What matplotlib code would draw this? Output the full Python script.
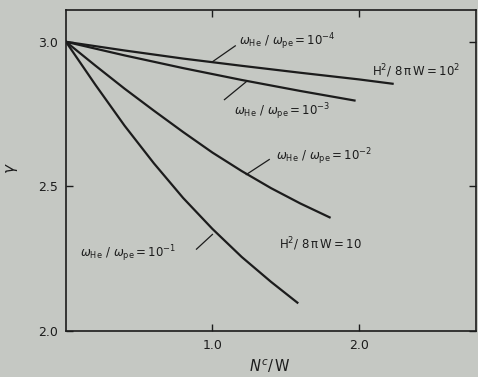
import numpy as np
import matplotlib
matplotlib.use("Agg")
from matplotlib import pyplot as plt

plt.rcParams['mathtext.fontset'] = 'dejavusans'

# curves (x = N^c/W, y = gamma)
x1 = [0, 4, 8, 12, 16, 20, 22.3]
y1 = [3.0, 2.97, 2.942, 2.917, 2.893, 2.87, 2.855]

x2 = [0, 4, 8, 12, 16, 19.7]
y2 = [3.0, 2.953, 2.909, 2.868, 2.83, 2.797]

x3 = [0, 2, 4, 6, 8, 10, 12, 14, 16, 18]
y3 = [3.0, 2.918, 2.838, 2.762, 2.688, 2.617, 2.553, 2.494, 2.441, 2.393]

x4 = [0, 2, 4, 6, 8, 10, 12, 14, 15.8]
y4 = [3.0, 2.852, 2.71, 2.58, 2.46, 2.353, 2.256, 2.17, 2.098]

xticks = [10, 20]
xticklabels = ["1.0", "2.0"]
yticks = [2.0, 2.5, 3.0]
yticklabels = ["2.0", "2.5", "3.0"]

bg = '#c5c8c3'
ink = '#1c1c1c'

fig = plt.figure(figsize=(4.78, 3.77), dpi=100, facecolor=bg)
ax = fig.add_axes([0.138, 0.122, 0.858, 0.8515], facecolor=bg)

for xs, ys in [(x1, y1), (x2, y2), (x3, y3), (x4, y4)]:
    ax.plot(xs, ys, color=ink, lw=1.6)

ax.set_xlim(0, 28)
ax.set_ylim(2.0, 3.11)

for s in ax.spines.values():
    s.set_color(ink)
    s.set_linewidth(1.2)

ax.set_xticks(xticks)
ax.set_xticklabels(xticklabels)
ax.set_yticks(yticks)
ax.set_yticklabels(yticklabels)
ax.tick_params(direction='in', top=True, right=True, length=5, width=1,
               colors=ink, labelsize=9, pad=6)

fs = 8.5
wlab = r"$\omega_{\rm He}\ /\ \omega_{\rm pe} = 10^{%s}$"
hlab = r"$\rm H^2/\ 8\,\pi\, W = %s$"

# annotation labels with leader lines
ax.text(11.8, 3.0, wlab % "-4", fontsize=fs, color=ink, va='center')
ax.plot([10.0, 11.56], [2.931, 2.986], color=ink, lw=0.9)

ax.text(20.9, 2.897, hlab % "10^2", fontsize=fs, color=ink, va='center', clip_on=False)

ax.text(11.5, 2.759, wlab % "-3", fontsize=fs, color=ink, va='center')
ax.plot([12.31, 10.82], [2.862, 2.80], color=ink, lw=0.9)

ax.text(14.35, 2.603, wlab % "-2", fontsize=fs, color=ink, va='center')
ax.plot([12.31, 13.88], [2.541, 2.593], color=ink, lw=0.9)

ax.text(14.56, 2.30, hlab % "10", fontsize=fs, color=ink, va='center')

ax.text(0.95, 2.266, wlab % "-1", fontsize=fs, color=ink, va='center')
ax.plot([8.91, 10.0], [2.283, 2.334], color=ink, lw=0.9)

fig.text(12 / 478, 1 - 168 / 377, r"$\gamma$", fontsize=11, color=ink,
         rotation=90, ha='center', va='center')
fig.text(270 / 478, 1 - 366 / 377, r"$N^{c}/\,\rm W$", fontsize=10.5, color=ink,
         ha='center', va='center')

fig.savefig("out.png", dpi=100, facecolor=bg)
